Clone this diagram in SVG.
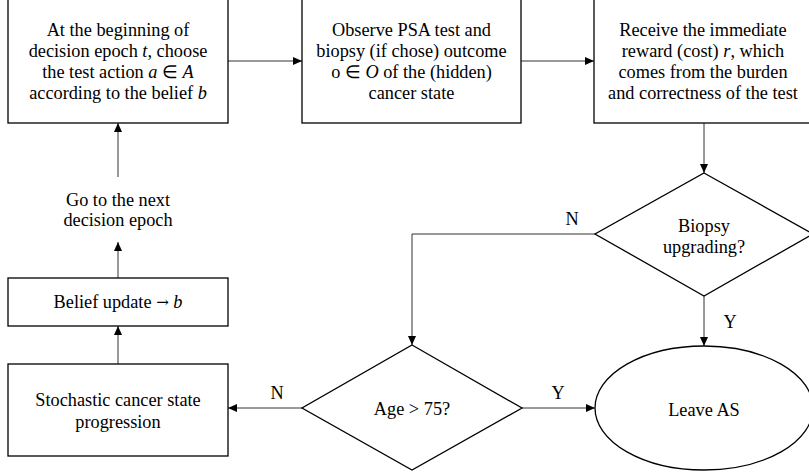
<svg xmlns="http://www.w3.org/2000/svg" width="809" height="475" viewBox="0 0 809 475">
<style>
text{font-family:"Liberation Serif","Times New Roman",serif;font-size:18.3px;fill:#000;text-anchor:middle;dominant-baseline:central}
.box{fill:#fff;stroke:#000;stroke-width:1.3}
.con{fill:none;stroke:#333;stroke-width:1}
.m{font-style:italic}
.ar{font-family:"DejaVu Serif",serif;font-size:15px}
</style>
<defs>
<marker id="ah" markerUnits="userSpaceOnUse" markerWidth="10" markerHeight="8" refX="9" refY="4" orient="auto">
<path d="M0,0 L9,4 L0,8 Z" fill="#000"/>
</marker>
</defs>
<g id="connectors">
<path class="con" d="M228,61 H302" marker-end="url(#ah)"/>
<path class="con" d="M521,61 H594" marker-end="url(#ah)"/>
<path class="con" d="M704,123 V173" marker-end="url(#ah)"/>
<path class="con" d="M595,234 H412 V345" marker-end="url(#ah)"/>
<path class="con" d="M704,296 V346" marker-end="url(#ah)"/>
<path class="con" d="M522,408 H595" marker-end="url(#ah)"/>
<path class="con" d="M302,408 H228" marker-end="url(#ah)"/>
<path class="con" d="M118,364 V326" marker-end="url(#ah)"/>
<path class="con" d="M118,278 V242" marker-end="url(#ah)"/>
<path class="con" d="M118,177 V123" marker-end="url(#ah)"/>
<text x="572" y="219">N</text>
<text x="730" y="322">Y</text>
<text x="558" y="393">Y</text>
<text x="277" y="393">N</text>
</g>
<g id="choose">
<rect class="box" x="8" y="-2" width="220" height="125"/>
<text x="118" y="30">At the beginning of</text>
<text x="118" y="51">decision epoch <tspan class="m">t</tspan>, choose</text>
<text x="118" y="72">the test action <tspan class="m">a</tspan> ∈ <tspan class="m">A</tspan></text>
<text x="118" y="93">according to the belief <tspan class="m">b</tspan></text>
</g>
<g id="observe">
<rect class="box" x="302" y="-2" width="219" height="125"/>
<text x="411.5" y="30">Observe PSA test and</text>
<text x="411.5" y="51">biopsy (if chose) outcome</text>
<text x="411.5" y="72">o ∈ <tspan class="m">O</tspan> of the (hidden)</text>
<text x="411.5" y="93">cancer state</text>
</g>
<g id="reward">
<rect class="box" x="594" y="-2" width="220" height="125"/>
<text x="703" y="30">Receive the immediate</text>
<text x="703" y="51">reward (cost) <tspan class="m">r</tspan>, which</text>
<text x="703" y="72">comes from the burden</text>
<text x="703" y="93">and correctness of the test</text>
</g>
<g id="biopsy">
<path class="box" d="M704,173 L813,234 L704,296 L595,234 Z"/>
<text x="704" y="226">Biopsy</text>
<text x="704" y="247">upgrading?</text>
</g>
<g id="next">
<text x="118" y="200">Go to the next</text>
<text x="118" y="220">decision epoch</text>
</g>
<g id="belief">
<rect class="box" x="8" y="278" width="220" height="48"/>
<text x="118" y="302">Belief update <tspan class="ar">→</tspan> <tspan class="m">b</tspan></text>
</g>
<g id="stochastic">
<rect class="box" x="8" y="364" width="220" height="92"/>
<text x="118" y="400">Stochastic cancer state</text>
<text x="118" y="422">progression</text>
</g>
<g id="age">
<path class="box" d="M412,345 L522,408 L412,470 L302,408 Z"/>
<text x="412" y="409">Age &gt; 75?</text>
</g>
<g id="leave">
<ellipse class="box" cx="704" cy="408" rx="109" ry="62"/>
<text x="704" y="410">Leave AS</text>
</g>
</svg>
